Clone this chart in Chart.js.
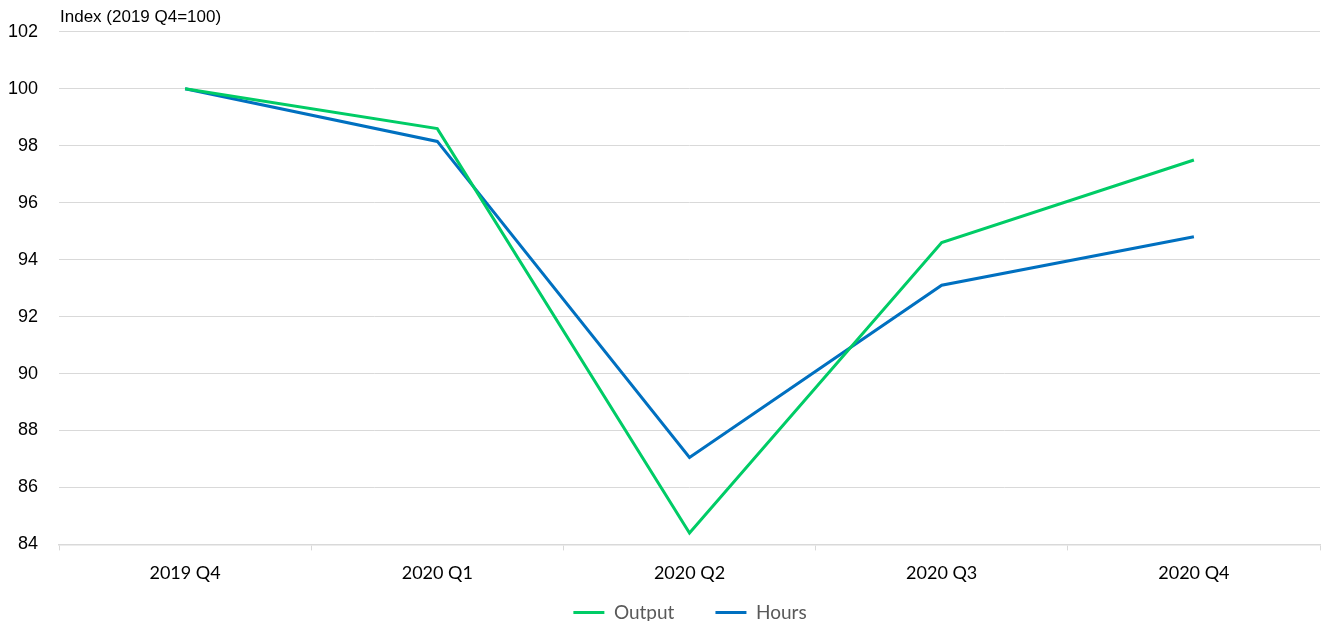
<!DOCTYPE html>
<html>
<head>
<meta charset="utf-8">
<script src="https://cdn.jsdelivr.net/npm/chart.js@4/dist/chart.umd.min.js"></script>
<style>
  html, body { margin: 0; padding: 0; background: #fff; }
  #wrap { width: 1323px; height: 621px; }
</style>
</head>
<body>
<div id="wrap"><canvas id="lineChart" width="1323" height="621"></canvas></div>
<script>
const quarters = ["2019 Q4", "2020 Q1", "2020 Q2", "2020 Q3", "2020 Q4"];
const output = [100, 98.6, 84.4, 94.6, 97.5];
const hours = [100, 98.15, 87.05, 93.1, 94.8];
const yTitle = "Index (2019 Q4=100)";

const unitLabel = {
    id: "unitLabel",
    afterLayout(chart) {
        // legend sits a little right of centre in the original
        chart.legend.left += 30;
        chart.legend.right += 30;
    },
    afterDraw(chart) {
        const { ctx, chartArea } = chart;
        ctx.save();
        ctx.font = "17px 'Liberation Sans', Arial, sans-serif";
        ctx.fillStyle = "#000";
        ctx.textBaseline = "middle";
        ctx.fillText(yTitle, chartArea.left + 1, 17);
        ctx.restore();
    }
};

const ctx = document.getElementById("lineChart").getContext("2d");
new Chart(ctx, {
    type: "line",
    data: {
        labels: quarters,
        datasets: [
            { label: "Output", data: output, borderColor: "#00CC66", backgroundColor: "#00CC66", borderWidth: 3, pointRadius: 0, tension: 0 },
            { label: "Hours", data: hours, borderColor: "#0070C0", backgroundColor: "#0070C0", borderWidth: 3, pointRadius: 0, tension: 0 }
        ]
    },
    options: {
        responsive: false,
        animation: false,
        layout: { padding: { top: 20, right: 3, left: 0, bottom: -11 } },
        plugins: {
            legend: {
                position: "bottom",
                labels: {
                    usePointStyle: true,
                    pointStyle: "line",
                    pointStyleWidth: 31,
                    boxWidth: 31,
                    padding: 7,
                    color: "#595959",
                    font: { family: "Lato, 'Open Sans', sans-serif", size: 19 },
                    generateLabels(chart) {
                        const items = Chart.defaults.plugins.legend.labels.generateLabels(chart);
                        items[0].text = items[0].text + "       ";
                        return items;
                    }
                }
            },
            tooltip: { enabled: false }
        },
        scales: {
            x: {
                offset: true,
                grid: { offset: true, drawOnChartArea: false, drawTicks: true, tickLength: 6, color: "#d9d9d9" },
                border: { color: "#d9d9d9", width: 1.5 },
                ticks: { color: "#000", padding: 12, font: { family: "Lato, 'Open Sans', sans-serif", size: 18 } }
            },
            y: {
                min: 84,
                max: 102,
                afterFit(axis) { axis.width = 59; },
                grid: { color: "#d9d9d9", drawTicks: false },
                border: { display: false },
                ticks: { stepSize: 2, padding: 21, color: "#000", font: { family: "'Liberation Sans', Arial, sans-serif", size: 18 } }
            }
        }
    },
    plugins: [unitLabel]
});
</script>
</body>
</html>
